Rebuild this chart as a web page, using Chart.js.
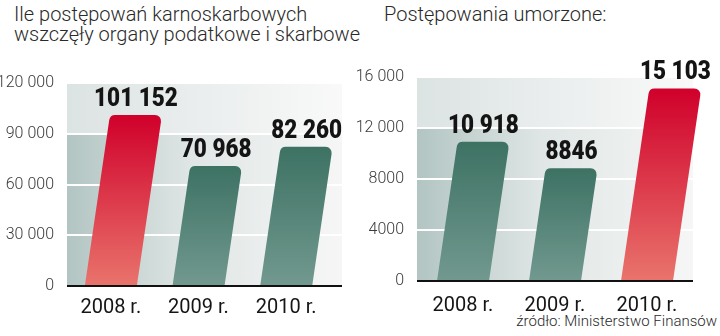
<!DOCTYPE html>
<html>
<head>
<meta charset="utf-8">
<script src="https://cdn.jsdelivr.net/npm/chart.js@4.4.1/dist/chart.umd.min.js"></script>
<style>
  html, body { margin: 0; padding: 0; background: #fff; }
  body { width: 720px; height: 336px; position: relative; overflow: hidden; font-family: Roboto, sans-serif; font-weight: 300; color: #2a2a2a; }
  .title { position: absolute; font-size: 20px; line-height: 20px; white-space: nowrap; }
  #t1 { left: 14px; top: 4px; }
  #t2 { left: 384px; top: 4px; }
  #src { position: absolute; right: 3px; top: 312px; font-size: 15px; white-space: nowrap; }
  .box { position: absolute; }
  #boxL { left: 0; top: 60px; width: 350px; height: 260px; }
  #boxR { left: 352px; top: 60px; width: 368px; height: 255px; }
</style>
</head>
<body>
<div class="title" id="t1">Ile postępowań karnoskarbowych<br>wszczęły organy podatkowe i skarbowe</div>
<div class="title" id="t2">Postępowania umorzone:</div>
<div id="src">źródło: Ministerstwo Finansów</div>
<div class="box" id="boxL"><canvas id="chartL"></canvas></div>
<div class="box" id="boxR"><canvas id="chartR"></canvas></div>
<script>
// dane
const years = ["2008 r.", "2009 r.", "2010 r."];
const wszczete = [101152, 70968, 82260];
const umorzone = [10918, 8846, 15103];
const ticksL = [0, 30000, 60000, 90000, 120000];
const ticksR = [0, 4000, 8000, 12000, 16000];

const RED = ["#d0002b", "#e9746c"];
const GREEN = ["#3d7263", "#72998f"];

// 120 000, 90 000 ale 8000, 4000
function fmt(v) {
  return v >= 10000 ? String(v).replace(/\B(?=(\d{3})+(?!\d))/g, " ") : String(v);
}

// tło, siatka, skośne słupki i podpisy
const slantBars = {
  id: "slantBars",
  beforeDatasetsDraw(chart, args, o) {
    const ctx = chart.ctx;
    const a = chart.chartArea;
    const y = chart.scales.y;
    const right = a.right + o.extend;
    const band = y.getPixelForValue(o.band);

    ctx.save();
    let g = ctx.createLinearGradient(a.left, 0, right, 0);
    g.addColorStop(0, "#dce3e3");
    g.addColorStop(1, "#f9f9f9");
    ctx.fillStyle = g;
    ctx.fillRect(a.left, a.top, right - a.left, band - a.top);

    g = ctx.createLinearGradient(a.left, 0, right, 0);
    g.addColorStop(0, "#b2c5c2");
    g.addColorStop(0.45, "#dfe6e5");
    g.addColorStop(1, "#f6f6f6");
    ctx.fillStyle = g;
    ctx.fillRect(a.left, band, right - a.left, a.bottom - band);

    ctx.strokeStyle = "#ffffff";
    ctx.lineWidth = 2;
    o.ticks.forEach((v) => {
      if (v === 0) return;
      const py = Math.round(y.getPixelForValue(v));
      ctx.beginPath();
      ctx.moveTo(a.left, py);
      ctx.lineTo(right, py);
      ctx.stroke();
    });
    ctx.restore();
  },
  afterDatasetsDraw(chart, args, o) {
    const ctx = chart.ctx;
    const a = chart.chartArea;
    const meta = chart.getDatasetMeta(0);
    const values = chart.data.datasets[0].data;
    const r = 6;

    ctx.save();
    meta.data.forEach((el, i) => {
      const w = el.width;
      const base = el.base;
      const top = el.y;
      const h = base - top;
      const bx = el.x;
      const tx = bx + h * 0.147;
      const cols = o.colors[i];

      const g = ctx.createLinearGradient(0, top, 0, base);
      g.addColorStop(0, cols[0]);
      g.addColorStop(1, cols[1]);
      ctx.fillStyle = g;
      ctx.beginPath();
      ctx.moveTo(bx - w / 2, base);
      ctx.lineTo(bx + w / 2, base);
      ctx.arcTo(tx + w / 2, top, tx - w / 2, top, r);
      ctx.arcTo(tx - w / 2, top, bx - w / 2, base, r);
      ctx.closePath();
      ctx.fill();

      // wąskie, grube cyfry nad słupkiem
      ctx.save();
      ctx.translate(tx, top - 9);
      ctx.scale(0.9, 1);
      ctx.fillStyle = "#141414";
      ctx.font = "900 25px Roboto, sans-serif";
      ctx.textAlign = "center";
      ctx.textBaseline = "alphabetic";
      ctx.fillText(fmt(values[i]), 0, 0);
      ctx.restore();
    });

    // oś zero
    const py = Math.round(chart.scales.y.getPixelForValue(0));
    ctx.strokeStyle = "#111";
    ctx.lineWidth = 2;
    ctx.beginPath();
    ctx.moveTo(a.left, py);
    ctx.lineTo(a.right + o.extend, py);
    ctx.stroke();
    ctx.restore();
  },
};

function makeChart(id, values, ticks, max, o) {
  return new Chart(document.getElementById(id), {
    type: "bar",
    data: {
      labels: years,
      datasets: [{ data: values, backgroundColor: "rgba(0,0,0,0)", barThickness: 52 }],
    },
    options: {
      responsive: true,
      maintainAspectRatio: false,
      animation: false,
      layout: { padding: { top: o.top, right: o.right, left: 0, bottom: 0 } },
      plugins: {
        legend: { display: false },
        tooltip: { enabled: false },
        slantBars: { band: o.band, ticks: ticks, extend: o.extend, colors: o.colors },
      },
      scales: {
        x: {
          grid: { display: false },
          border: { display: false },
          ticks: {
            color: "#151515",
            padding: o.xPad,
            font: { family: "Roboto", weight: 400, size: 20 },
          },
          afterFit: (s) => { s.height = o.xH; },
        },
        y: {
          min: 0,
          max: max,
          grid: { display: false },
          border: { display: false },
          afterBuildTicks: (s) => { s.ticks = ticks.map((v) => ({ value: v })); },
          ticks: {
            color: "#3a3a3a",
            padding: 5,
            callback: (v) => fmt(v),
            font: { family: "Roboto", weight: 300, size: 16 },
          },
          afterFit: (s) => { s.width = o.yW; },
        },
      },
    },
    plugins: [slantBars],
  });
}

makeChart("chartL", wszczete, ticksL, 120000, {
  top: 23, right: 20, xH: 34, yW: 67, xPad: 2, band: 90000, extend: 12,
  colors: [RED, GREEN, GREEN],
});
makeChart("chartR", umorzone, ticksR, 16000, {
  top: 17, right: 27, xH: 34, yW: 65, xPad: 5, band: 12000, extend: 0,
  colors: [GREEN, GREEN, RED],
});
</script>
</body>
</html>
